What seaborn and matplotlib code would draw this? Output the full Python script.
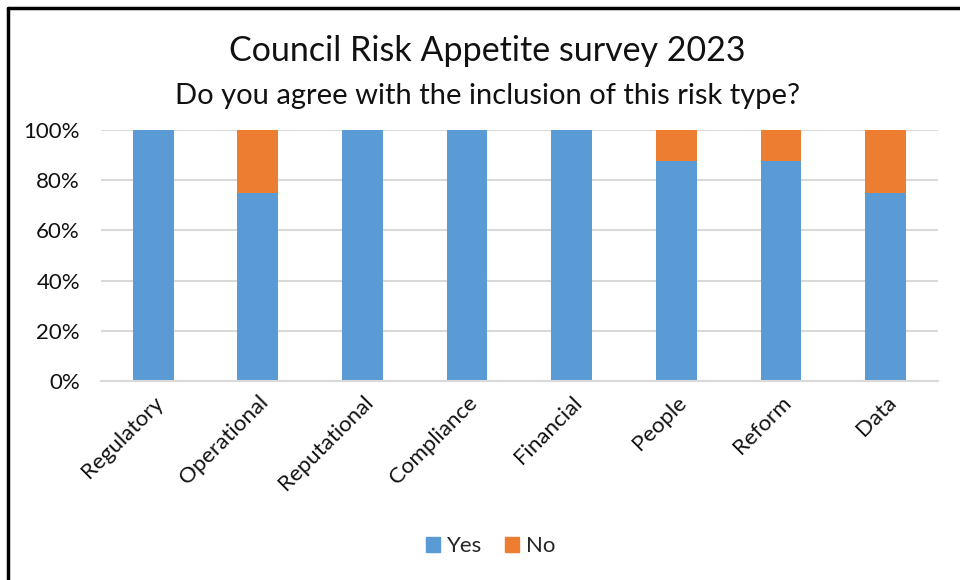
import matplotlib
matplotlib.use("Agg")
import matplotlib.pyplot as plt
import seaborn as sns
import numpy as np
import pandas as pd
from matplotlib.patches import Patch
from matplotlib.lines import Line2D

categories = ["Regulatory", "Operational", "Reputational", "Compliance",
              "Financial", "People", "Reform", "Data"]
yes_pct = [100, 75, 100, 100, 100, 87.5, 87.5, 75]
no_pct = [0, 25, 0, 0, 0, 12.5, 12.5, 25]
yticks = [0, 20, 40, 60, 80, 100]
ytick_labels = ["0%", "20%", "40%", "60%", "80%", "100%"]

BLUE = "#5B9BD5"
ORANGE = "#ED7D31"
GRID = "#D9D9D9"

sns.set_theme(style="white")
plt.rcParams["font.family"] = ["Lato", "DejaVu Sans"]

df = pd.DataFrame({"cat": categories, "yes": yes_pct,
                   "total": np.array(yes_pct) + np.array(no_pct)})

fig = plt.figure(figsize=(9.6, 5.8), dpi=100)
ax = fig.add_axes([0.105, 0.343, 0.872, 0.433])

sns.barplot(data=df, x="cat", y="total", color=ORANGE, width=0.39,
            saturation=1, ax=ax, zorder=3, linewidth=0)
sns.barplot(data=df, x="cat", y="yes", color=BLUE, width=0.39,
            saturation=1, ax=ax, zorder=3, linewidth=0)

ax.set_ylim(0, 100)
ax.set_xlim(-0.5, len(categories) - 0.5)
ax.set_yticks(yticks)
ax.set_yticklabels(ytick_labels, fontsize=16, color="#111111")
ax.set_xticks(range(len(categories)))
ax.set_xticklabels(categories, rotation=45, ha="right", rotation_mode="anchor",
                   fontsize=16, color="#111111")
ax.tick_params(axis="both", length=0)
ax.tick_params(axis="x", pad=8)
ax.tick_params(axis="y", pad=15)
ax.set_xlabel("")
ax.set_ylabel("")
ax.yaxis.grid(True, color=GRID, linewidth=1.5, zorder=0)
ax.set_axisbelow(True)
for s in ["top", "right", "left"]:
    ax.spines[s].set_visible(False)
ax.spines["bottom"].set_color(GRID)
ax.spines["bottom"].set_linewidth(1.5)
ax.spines["bottom"].set_zorder(4)

fig.text(0.508, 0.912, "Council Risk Appetite survey 2023", ha="center",
         va="center", fontsize=24.5, color="#111111")
fig.text(0.508, 0.835, "Do you agree with the inclusion of this risk type?",
         ha="center", va="center", fontsize=21, color="#111111")

handles = [Patch(facecolor=BLUE, edgecolor=BLUE, label="Yes"),
           Patch(facecolor=ORANGE, edgecolor=ORANGE, label="No")]
fig.legend(handles=handles, loc="center", bbox_to_anchor=(0.511, 0.058),
           ncol=2, frameon=False, fontsize=16, handlelength=0.65,
           handleheight=0.65, handletextpad=0.3, columnspacing=1.0)

# border lines (top and left)
fig.add_artist(Line2D([8 / 960, 1.0], [1 - 8 / 580, 1 - 8 / 580],
                      transform=fig.transFigure, color="black", linewidth=2.5))
fig.add_artist(Line2D([8 / 960, 8 / 960], [0, 1 - 8 / 580],
                      transform=fig.transFigure, color="black", linewidth=2.5))

fig.savefig("out.png", dpi=100, facecolor="white")
